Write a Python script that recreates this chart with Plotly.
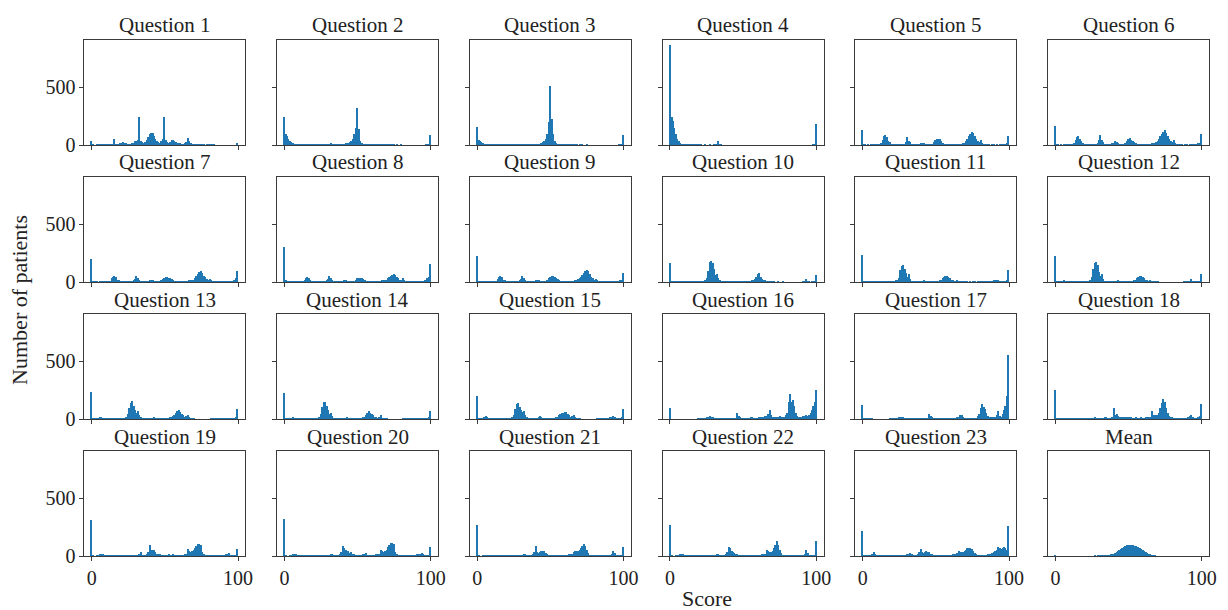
import plotly.graph_objects as go
from plotly.subplots import make_subplots

scores = list(range(101))
titles = [f"Question {i}" for i in range(1, 24)] + ["Mean"]
x_ticks = [0, 100]
y_ticks = [0, 500]

q1 = [40, 5, 3, 4, 5, 6, 8, 5, 6, 8,
      10, 8, 10, 12, 15, 15, 60, 10, 8, 12,
      20, 25, 30, 25, 20, 15, 12, 15, 20, 25,
      35, 40, 45, 250, 40, 30, 25, 30, 50, 70,
      100, 110, 105, 80, 60, 40, 30, 25, 35, 60,
      250, 45, 30, 25, 30, 45, 50, 40, 30, 20,
      20, 18, 15, 15, 20, 30, 65, 40, 20, 12,
      10, 8, 6, 5, 5, 5, 6, 5, 4, 5,
      6, 8, 12, 15, 6, 4, 3, 3, 2, 2,
      2, 2, 2, 2, 2, 2, 2, 2, 3, 3,
      18]
q2 = [250, 95, 80, 60, 40, 30, 20, 15, 12, 10,
      10, 8, 8, 6, 6, 8, 10, 10, 12, 10,
      12, 10, 15, 12, 10, 15, 12, 10, 12, 10,
      15, 12, 18, 15, 12, 10, 8, 10, 12, 10,
      12, 15, 18, 20, 25, 30, 40, 60, 95, 150,
      320, 140, 40, 20, 12, 10, 8, 8, 6, 6,
      8, 6, 6, 5, 6, 5, 8, 6, 5, 5,
      6, 5, 5, 6, 8, 5, 4, 5, 4, 4,
      5, 4, 4, 3, 4, 3, 3, 4, 3, 3,
      3, 3, 4, 3, 3, 3, 4, 5, 8, 15,
      90]
q3 = [160, 45, 40, 30, 20, 15, 10, 8, 8, 6,
      6, 5, 5, 5, 6, 5, 6, 5, 5, 6,
      5, 6, 5, 5, 6, 5, 5, 6, 5, 6,
      6, 5, 6, 8, 6, 5, 6, 8, 6, 8,
      8, 10, 12, 15, 20, 30, 40, 60, 100, 200,
      515, 225, 100, 40, 20, 12, 8, 6, 6, 5,
      6, 5, 5, 6, 5, 5, 6, 5, 5, 4,
      5, 4, 5, 4, 4, 5, 4, 4, 3, 4,
      3, 4, 3, 3, 3, 3, 3, 3, 3, 3,
      3, 3, 3, 3, 3, 3, 4, 5, 8, 12,
      90]
q4 = [865, 245, 210, 150, 100, 60, 40, 25, 15, 12,
      10, 8, 8, 8, 15, 8, 6, 6, 5, 5,
      5, 5, 4, 4, 5, 4, 4, 5, 4, 4,
      5, 8, 15, 40, 12, 6, 4, 4, 3, 3,
      3, 3, 4, 3, 3, 3, 3, 3, 3, 3,
      4, 3, 3, 3, 3, 3, 3, 3, 3, 2,
      3, 3, 2, 3, 2, 2, 3, 2, 2, 2,
      2, 2, 2, 2, 3, 2, 2, 2, 2, 2,
      2, 2, 2, 2, 2, 2, 2, 2, 2, 2,
      2, 2, 2, 2, 2, 2, 3, 4, 6, 12,
      185]
q5 = [133, 6, 5, 4, 5, 4, 5, 5, 6, 5,
      6, 8, 10, 20, 50, 80, 90, 70, 40, 30,
      15, 10, 8, 6, 5, 6, 8, 10, 12, 15,
      30, 75, 40, 30, 15, 10, 8, 8, 10, 12,
      20, 25, 22, 15, 10, 8, 8, 10, 15, 30,
      45, 55, 60, 55, 40, 25, 15, 10, 8, 8,
      10, 8, 6, 8, 10, 8, 10, 12, 15, 18,
      20, 40, 60, 80, 100, 115, 110, 80, 60, 40,
      30, 45, 20, 10, 8, 6, 5, 5, 4, 5,
      5, 4, 5, 4, 5, 6, 8, 10, 15, 20,
      80]
q6 = [170, 6, 5, 4, 5, 4, 5, 6, 5, 6,
      6, 8, 10, 20, 45, 75, 85, 60, 35, 25,
      15, 10, 8, 6, 5, 6, 8, 10, 15, 25,
      45, 90, 45, 30, 15, 10, 8, 10, 15, 20,
      25, 35, 30, 20, 12, 10, 10, 15, 25, 40,
      55, 65, 50, 40, 30, 20, 15, 10, 8, 10,
      12, 10, 8, 10, 12, 15, 18, 20, 25, 30,
      40, 60, 80, 100, 120, 135, 110, 80, 60, 40,
      30, 50, 25, 12, 8, 6, 5, 5, 4, 5,
      5, 4, 5, 5, 5, 6, 8, 12, 18, 25,
      100]
q7 = [205, 8, 6, 5, 5, 4, 5, 5, 6, 5,
      5, 6, 8, 15, 35, 50, 60, 45, 25, 20,
      12, 8, 6, 5, 5, 6, 8, 10, 12, 18,
      30, 58, 40, 25, 15, 10, 8, 8, 10, 12,
      18, 25, 22, 15, 10, 8, 8, 12, 20, 30,
      40, 45, 45, 42, 38, 30, 20, 12, 10, 8,
      15, 12, 10, 8, 10, 12, 15, 18, 20, 22,
      25, 40, 55, 75, 90, 100, 85, 60, 45, 30,
      25, 30, 20, 10, 8, 6, 6, 5, 5, 6,
      6, 6, 6, 6, 7, 8, 10, 15, 25, 35,
      100]
q8 = [305, 20, 8, 6, 5, 5, 5, 6, 5, 5,
      6, 8, 10, 15, 25, 35, 45, 35, 20, 15,
      10, 8, 6, 5, 5, 6, 8, 10, 12, 18,
      30, 60, 35, 20, 12, 10, 8, 8, 10, 12,
      15, 20, 18, 12, 10, 8, 8, 10, 15, 25,
      35, 40, 38, 35, 30, 25, 15, 10, 8, 8,
      10, 10, 8, 8, 10, 12, 15, 18, 20, 22,
      25, 35, 45, 55, 65, 75, 65, 50, 35, 25,
      25, 35, 20, 12, 10, 10, 10, 12, 12, 12,
      12, 12, 12, 14, 15, 15, 18, 25, 35, 50,
      160]
q9 = [225, 10, 8, 8, 6, 6, 8, 8, 8, 6,
      6, 8, 10, 15, 30, 45, 58, 45, 25, 18,
      12, 8, 6, 6, 5, 6, 8, 10, 12, 18,
      30, 52, 35, 20, 12, 10, 8, 8, 10, 12,
      18, 25, 22, 15, 10, 8, 8, 12, 20, 35,
      45, 55, 58, 50, 40, 30, 18, 12, 10, 8,
      10, 10, 8, 8, 10, 12, 15, 18, 22, 28,
      35, 50, 65, 80, 95, 110, 95, 70, 50, 35,
      25, 30, 20, 10, 8, 6, 6, 5, 5, 6,
      6, 6, 6, 6, 7, 8, 10, 12, 18, 25,
      78]
q10 = [170, 8, 8, 6, 6, 8, 10, 10, 8, 8,
       6, 5, 5, 5, 5, 6, 6, 6, 8, 8,
       10, 12, 15, 12, 20, 35, 100, 180, 182, 170,
       120, 65, 75, 40, 18, 12, 10, 10, 8, 8,
       10, 12, 15, 12, 10, 8, 8, 8, 10, 10,
       10, 12, 12, 12, 14, 15, 18, 20, 30, 50,
       70, 80, 50, 30, 20, 25, 15, 8, 6, 5,
       5, 5, 4, 4, 5, 4, 4, 5, 4, 4,
       4, 4, 4, 3, 3, 3, 3, 3, 3, 3,
       4, 5, 10, 30, 10, 5, 4, 5, 8, 15,
       65]
q11 = [240, 8, 8, 8, 10, 12, 15, 12, 10, 8,
       8, 8, 8, 10, 10, 12, 15, 15, 15, 12,
       12, 12, 15, 18, 25, 40, 110, 145, 150, 120,
       80, 50, 72, 30, 15, 10, 8, 8, 10, 10,
       12, 15, 25, 15, 10, 8, 8, 10, 10, 12,
       12, 14, 15, 18, 25, 35, 45, 55, 60, 50,
       40, 25, 20, 15, 12, 20, 10, 8, 6, 6,
       5, 5, 5, 4, 5, 4, 5, 5, 4, 5,
       5, 5, 5, 5, 6, 6, 8, 10, 12, 15,
       20, 25, 20, 18, 15, 12, 10, 10, 15, 25,
       105]
q12 = [225, 10, 8, 10, 12, 15, 20, 15, 10, 8,
       8, 8, 8, 8, 10, 10, 12, 12, 12, 10,
       10, 10, 12, 15, 25, 45, 120, 170, 180, 150,
       90, 60, 70, 30, 15, 10, 8, 8, 8, 10,
       10, 12, 15, 20, 12, 8, 8, 10, 10, 12,
       12, 12, 14, 15, 20, 25, 35, 45, 55, 60,
       50, 35, 25, 18, 15, 20, 10, 8, 6, 5,
       5, 4, 4, 4, 4, 3, 4, 3, 3, 4,
       3, 3, 3, 3, 3, 3, 4, 4, 5, 6,
       8, 10, 15, 32, 12, 8, 6, 6, 8, 12,
       75]
q13 = [235, 8, 8, 6, 10, 15, 25, 20, 10, 6,
       5, 5, 5, 5, 5, 5, 5, 5, 6, 6,
       6, 8, 8, 10, 20, 50, 100, 140, 160, 120,
       80, 60, 75, 40, 20, 12, 10, 8, 8, 8,
       10, 12, 15, 25, 15, 10, 8, 8, 10, 10,
       12, 12, 14, 15, 18, 20, 30, 40, 55, 70,
       80, 65, 50, 35, 25, 30, 40, 20, 10, 6,
       5, 4, 4, 4, 4, 4, 4, 4, 4, 4,
       4, 4, 5, 5, 5, 6, 8, 10, 12, 15,
       15, 12, 10, 8, 8, 6, 6, 6, 10, 20,
       90]
q14 = [225, 8, 8, 6, 10, 15, 20, 15, 10, 6,
       5, 5, 5, 5, 5, 5, 6, 6, 6, 8,
       8, 8, 10, 12, 20, 45, 110, 150, 155, 120,
       80, 50, 60, 30, 15, 10, 8, 8, 8, 10,
       10, 12, 15, 25, 15, 10, 8, 8, 10, 10,
       12, 12, 14, 15, 20, 25, 40, 55, 70, 60,
       45, 35, 25, 20, 15, 25, 35, 15, 8, 6,
       5, 4, 4, 4, 4, 4, 4, 4, 4, 4,
       4, 5, 5, 6, 6, 8, 10, 12, 14, 15,
       15, 15, 14, 12, 15, 12, 10, 8, 10, 18,
       75]
q15 = [205, 8, 8, 6, 10, 18, 30, 25, 12, 8,
       6, 5, 5, 5, 6, 6, 6, 8, 8, 8,
       10, 10, 10, 12, 20, 40, 90, 130, 145, 110,
       80, 65, 72, 35, 18, 12, 10, 8, 8, 10,
       10, 12, 18, 30, 18, 10, 8, 8, 10, 10,
       12, 12, 14, 15, 18, 25, 35, 45, 55, 60,
       65, 67, 50, 35, 25, 30, 40, 18, 10, 6,
       5, 4, 4, 4, 4, 4, 4, 4, 4, 4,
       4, 4, 5, 5, 5, 6, 8, 10, 12, 15,
       15, 18, 22, 30, 18, 10, 6, 6, 10, 20,
       90]
q16 = [95, 4, 3, 3, 2, 2, 3, 3, 2, 2,
       2, 2, 2, 3, 3, 3, 4, 4, 4, 5,
       5, 6, 8, 10, 12, 18, 25, 30, 25, 18,
       12, 10, 10, 8, 8, 8, 10, 8, 8, 10,
       10, 12, 15, 12, 10, 15, 60, 30, 20, 15,
       12, 10, 10, 12, 15, 18, 20, 15, 12, 12,
       15, 18, 20, 22, 25, 28, 30, 50, 78, 40,
       25, 20, 18, 20, 25, 30, 25, 20, 22, 40,
       60, 150, 220, 150, 170, 120, 60, 30, 25, 20,
       25, 30, 30, 35, 30, 40, 60, 80, 120, 150,
       255]
q17 = [125, 10, 10, 8, 10, 10, 8, 5, 3, 3,
       2, 2, 2, 2, 3, 3, 3, 4, 4, 5,
       6, 8, 10, 12, 15, 18, 22, 25, 20, 15,
       10, 8, 8, 8, 8, 8, 10, 8, 8, 10,
       10, 12, 15, 12, 10, 15, 45, 30, 20, 15,
       12, 10, 10, 10, 12, 12, 12, 10, 10, 10,
       12, 12, 14, 15, 15, 18, 20, 40, 35, 20,
       15, 12, 12, 12, 15, 15, 12, 12, 15, 30,
       50, 100, 135, 110, 90, 60, 30, 20, 18, 20,
       20, 25, 40, 72, 30, 25, 50, 80, 120, 200,
       560]
q18 = [255, 12, 10, 10, 12, 10, 8, 10, 8, 8,
       6, 6, 5, 5, 6, 6, 6, 8, 8, 8,
       8, 8, 10, 10, 10, 12, 15, 18, 15, 12,
       10, 10, 12, 15, 18, 20, 15, 15, 15, 20,
       100, 40, 50, 30, 25, 20, 20, 25, 22, 20,
       22, 20, 18, 15, 15, 18, 15, 15, 15, 18,
       15, 15, 18, 20, 22, 25, 72, 40, 40, 35,
       40, 60, 100, 140, 175, 150, 100, 60, 30, 25,
       20, 15, 15, 12, 12, 12, 12, 12, 12, 15,
       15, 20, 30, 40, 25, 15, 12, 15, 20, 30,
       130]
q19 = [315, 5, 4, 4, 5, 10, 25, 22, 18, 15,
       12, 10, 8, 8, 6, 6, 5, 5, 5, 5,
       5, 5, 5, 5, 6, 6, 6, 6, 8, 8,
       10, 12, 15, 25, 35, 15, 10, 12, 20, 40,
       100, 60, 55, 58, 40, 25, 20, 18, 15, 15,
       15, 15, 15, 18, 15, 15, 18, 15, 12, 12,
       12, 12, 14, 15, 18, 25, 64, 50, 40, 50,
       60, 75, 90, 105, 112, 100, 40, 20, 12, 10,
       10, 10, 8, 8, 8, 8, 8, 10, 10, 12,
       12, 15, 18, 25, 28, 15, 10, 10, 12, 15,
       65]
q20 = [320, 5, 4, 4, 6, 12, 18, 20, 18, 15,
       12, 10, 8, 8, 6, 6, 5, 5, 5, 5,
       5, 5, 5, 5, 6, 6, 6, 6, 8, 10,
       12, 15, 18, 20, 15, 12, 10, 12, 20, 40,
       93, 70, 60, 45, 50, 30, 40, 25, 18, 15,
       15, 15, 15, 15, 18, 20, 30, 15, 12, 12,
       12, 14, 15, 18, 20, 25, 58, 50, 40, 45,
       60, 80, 100, 116, 115, 105, 40, 20, 12, 10,
       10, 10, 8, 8, 8, 8, 10, 10, 12, 15,
       15, 18, 20, 25, 30, 20, 10, 10, 12, 15,
       84]
q21 = [275, 5, 4, 4, 6, 8, 10, 12, 14, 15,
       15, 14, 12, 10, 8, 8, 6, 6, 5, 5,
       5, 5, 5, 5, 6, 6, 6, 8, 8, 10,
       12, 15, 20, 25, 15, 12, 10, 12, 20, 40,
       93, 40, 30, 35, 50, 45, 50, 30, 20, 15,
       12, 12, 10, 10, 12, 12, 12, 12, 12, 12,
       12, 14, 15, 18, 20, 25, 40, 50, 50, 45,
       60, 75, 90, 107, 90, 60, 30, 15, 12, 10,
       10, 10, 8, 8, 8, 8, 8, 10, 10, 12,
       12, 15, 20, 50, 30, 12, 8, 8, 10, 15,
       84]
q22 = [270, 5, 4, 4, 6, 10, 15, 18, 20, 18,
       15, 12, 10, 8, 8, 6, 6, 5, 5, 5,
       5, 5, 5, 5, 6, 6, 6, 6, 8, 10,
       12, 15, 18, 20, 15, 12, 10, 12, 20, 40,
       78, 70, 50, 40, 30, 25, 20, 15, 15, 12,
       12, 12, 10, 10, 12, 12, 12, 12, 12, 12,
       12, 14, 15, 18, 20, 25, 55, 50, 40, 40,
       50, 70, 100, 130, 100, 60, 30, 15, 12, 10,
       10, 10, 8, 8, 8, 8, 8, 10, 10, 12,
       12, 15, 25, 55, 30, 12, 8, 8, 10, 15,
       130]
q23 = [223, 8, 8, 8, 10, 12, 15, 25, 35, 20,
       15, 12, 10, 10, 8, 8, 8, 8, 8, 8,
       8, 8, 8, 8, 10, 10, 10, 10, 10, 12,
       15, 18, 25, 30, 25, 15, 12, 12, 20, 35,
       64, 40, 30, 40, 45, 35, 35, 25, 20, 15,
       15, 15, 12, 12, 15, 15, 15, 15, 15, 15,
       15, 15, 18, 20, 25, 30, 50, 40, 35, 40,
       50, 60, 70, 72, 72, 65, 50, 30, 20, 15,
       12, 12, 12, 12, 15, 15, 18, 20, 25, 30,
       40, 50, 60, 85, 75, 65, 70, 80, 70, 60,
       267]
mean_q = [10, 3, 0, 0, 0, 0, 0, 0, 0, 0,
          0, 0, 0, 0, 0, 2, 3, 2, 0, 2,
          3, 2, 3, 2, 3, 3, 4, 5, 4, 5,
          6, 6, 7, 8, 10, 12, 14, 15, 18, 20,
          25, 30, 38, 45, 55, 65, 75, 82, 88, 95,
          98, 100, 98, 96, 94, 90, 85, 80, 72, 65,
          55, 48, 40, 32, 25, 18, 12, 8, 5, 3,
          2, 1, 1, 0, 0, 0, 0, 0, 0, 0,
          0, 0, 0, 0, 0, 0, 0, 0, 0, 0,
          0, 0, 0, 0, 0, 0, 0, 0, 0, 0,
          0]

series = [q1, q2, q3, q4, q5, q6, q7, q8, q9, q10, q11, q12,
          q13, q14, q15, q16, q17, q18, q19, q20, q21, q22, q23, mean_q]

W, H = 1228, 610      # design (reference) size used for positions
FIG_H = 621           # rendered layout height
FONT = "Liberation Serif"
BAR = "#1f77b4"
FRAME = "#3a3a3a"


def px(p):
    return p / W


def py(p):
    return 1 - p / H


fig = make_subplots(rows=4, cols=6)
annotations = []
for k, vals in enumerate(series):
    r, c = divmod(k, 6)
    fig.add_trace(go.Bar(x=scores, y=vals, width=1.0, marker=dict(color=BAR, line=dict(width=0)),
                         showlegend=False, hoverinfo="x+y"), row=r + 1, col=c + 1)
    left = 85 + 194 * c
    top = 39.5 + 137 * r
    xd = [px(left), px(left + 162)]
    yd = [py(top + 105.5), py(top)]
    idx = "" if k == 0 else str(k + 1)
    fig.layout["xaxis" + idx].update(
        domain=xd, range=[-5, 105], tickvals=x_ticks, ticks="outside", ticklen=4, tickwidth=1,
        tickcolor=FRAME, showline=True, mirror=True, linecolor=FRAME, linewidth=1,
        showgrid=False, zeroline=False, showticklabels=(r == 3),
        tickfont=dict(family=FONT, size=20, color="#222"))
    fig.layout["yaxis" + idx].update(
        domain=yd, range=[0, 910], tickvals=y_ticks, ticks="outside", ticklen=4, tickwidth=1,
        tickcolor=FRAME, showline=True, mirror=True, linecolor=FRAME, linewidth=1,
        showgrid=False, zeroline=False, showticklabels=(c == 0),
        tickfont=dict(family=FONT, size=20, color="#222"))
    annotations.append(dict(text=titles[k], x=(xd[0] + xd[1]) / 2, y=yd[1], xref="paper", yref="paper",
                            xanchor="center", yanchor="bottom", yshift=0, showarrow=False,
                            font=dict(family=FONT, size=21, color="#222")))

annotations.append(dict(text="Number of patients", x=px(19), y=py(300), xref="paper", yref="paper",
                        textangle=-90, xanchor="center", yanchor="middle", showarrow=False,
                        font=dict(family=FONT, size=22, color="#222")))
annotations.append(dict(text="Score", x=px(712), y=py(598), xref="paper", yref="paper",
                        xanchor="center", yanchor="middle", showarrow=False,
                        font=dict(family=FONT, size=22, color="#222")))

fig.update_layout(width=W, height=FIG_H, margin=dict(l=0, r=0, t=0, b=0), bargap=0,
                  plot_bgcolor="white", paper_bgcolor="white", annotations=annotations)
fig.write_html("out.html", config={"displayModeBar": False},
               post_script="document.body.style.margin='0';document.body.style.overflow='hidden';")
